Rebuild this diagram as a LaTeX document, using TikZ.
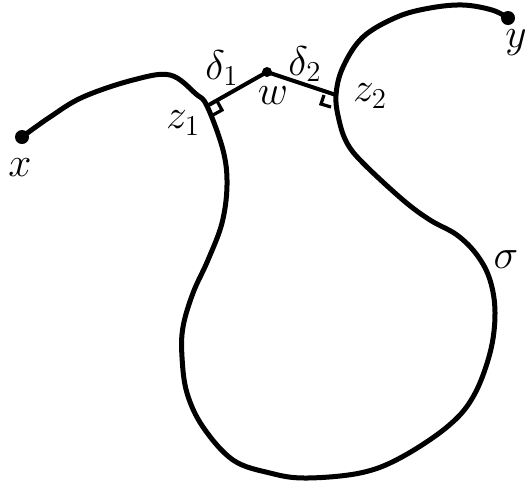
\documentclass[tikz,border=0pt]{standalone}
\usetikzlibrary{calc}
\begin{document}
\begin{tikzpicture}[x=0.5pt,y=-0.5pt,
  curve/.style={line width=2.5pt,line cap=round,line join=round},
  seg/.style={line width=2pt,line cap=round,line join=round},
  dot/.style={circle,fill=black,inner sep=0pt,minimum size=7pt},
  lbl/.style={font=\huge}]
\useasboundingbox (0,0) rectangle (528,484);
\node[dot] (x) at (22,137) {};
\node[dot] (y) at (508,18) {};
\node[dot,minimum size=5pt] (w) at (267,72) {};
\coordinate (z1) at (207,106);
\coordinate (z2) at (336,95);
\draw[curve] plot[smooth,tension=0.6] coordinates {
  (22,137) (50,117) (83,97) (133,80) (170,75) (196,94) (z1) (223,150) (227,185)
  (222,223) (208,260) (193,293) (183,327) (182,357) (187,393) (203,427)
  (233,460) (270,473) (305,478) (360,473) (400,458) (447,427) (473,397)
  (490,353) (495,313) (490,280) (477,255) (457,235) (430,220) (403,200)
  (363,163) (347,143) (339,120) (z2) (343,67) (363,37) (397,17) (430,8)
  (463,5) (492,10) (508,18)};
\draw[seg] (z1) -- (w.center) -- (z2);
\draw[line width=1.6pt] (217,101) -- (222,110) -- (213,115);
\draw[line width=1.6pt] (324,95) -- (321,104) -- (331,107);
\node[lbl] (xl) at (20,168) {$x$};
\node[lbl] (yl) at (516,43) {$y$};
\node[lbl] (z1l) at (183,123) {$z_1$};
\node[lbl] (z2l) at (370,96) {$z_2$};
\node[lbl] (wl) at (273,96) {$w$};
\node[lbl] (d1) at (222,68) {$\delta_1$};
\node[lbl] (d2) at (305,64) {$\delta_2$};
\node[lbl] (s) at (506,260) {$\sigma$};
\end{tikzpicture}
\end{document}
